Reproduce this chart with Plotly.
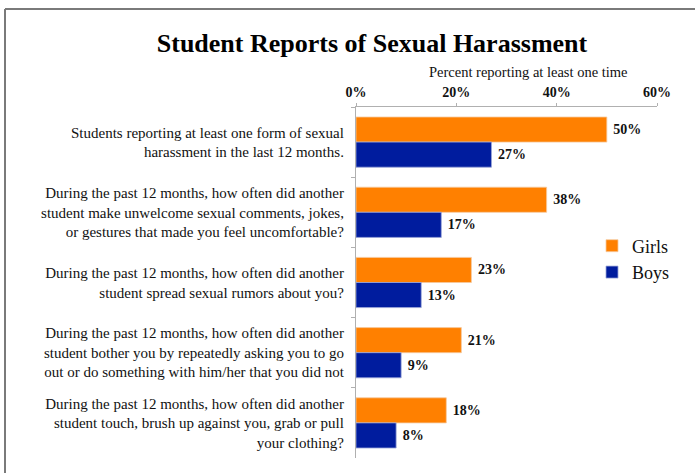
import plotly.graph_objects as go

categories = [
    "Students reporting at least one form of sexual<br>harassment in the last 12 months.",
    "During the past 12 months, how often did another<br>student make unwelcome sexual comments, jokes,<br>or gestures that made you feel uncomfortable?",
    "During the past 12 months, how often did another<br>student spread sexual rumors about you?",
    "During the past 12 months, how often did another<br>student bother you by repeatedly asking you to go<br>out or do something with him/her that you did not",
    "During the past 12 months, how often did another<br>student touch, brush up against you, grab or pull<br>your clothing?",
]
girls = [50, 38, 23, 21, 18]
boys = [27, 17, 13, 9, 8]
x_ticks = [0, 20, 40, 60]
x_tick_labels = ["0%", "20%", "40%", "60%"]

SERIF = "Liberation Serif, Times New Roman, serif"
W, H = 695, 473
L, R, T, B = 356, 38, 107, 15
PW, PH = W - L - R, H - T - B


def px_x(p):
    return (p - L) / PW


def px_y(p):
    return (H - B - p) / PH


fig = go.Figure()
fig.add_trace(go.Bar(
    name="Girls", y=categories, x=girls, orientation="h",
    marker=dict(color="#FF8000", line=dict(color="#f5c9a0", width=0.8)),
    text=girls, texttemplate="\u00a0<b>%{x}%</b>", textposition="outside",
    textfont=dict(family=SERIF, size=14, color="#111111"),
    cliponaxis=False,
))
fig.add_trace(go.Bar(
    name="Boys", y=categories, x=boys, orientation="h",
    marker=dict(color="#001C9E", line=dict(color="#9aa6d8", width=0.8)),
    text=boys, texttemplate="\u00a0<b>%{x}%</b>", textposition="outside",
    textfont=dict(family=SERIF, size=14, color="#111111"),
    cliponaxis=False,
))

fig.update_layout(
    width=W, height=H,
    margin=dict(l=L, r=R, t=T, b=B),
    paper_bgcolor="white", plot_bgcolor="white",
    barmode="group", bargap=0.285, bargroupgap=0,
    font=dict(family=SERIF, color="#111111"),
    title=dict(
        text="<b>Student Reports of Sexual Harassment</b>",
        font=dict(family=SERIF, size=26, color="#000000"),
        x=372 / W, xanchor="center", xref="container",
        y=1 - 43 / H, yanchor="middle", yref="container",
    ),
    xaxis=dict(
        side="top", range=[0, 60], tickvals=x_ticks,
        ticktext=["<b>%s</b>" % t for t in x_tick_labels],
        tickfont=dict(family=SERIF, size=14, color="#111111"),
        showgrid=False, zeroline=False,
        showline=True, linecolor="#b0b0b0", linewidth=1.2,
        ticks="outside", ticklen=3, tickcolor="#b0b0b0",
        ticklabelstandoff=0,
    ),
    yaxis=dict(
        type="category", autorange="reversed",
        tickfont=dict(family=SERIF, size=15, color="#111111"),
        showgrid=False, zeroline=False,
        showline=True, linecolor="#b0b0b0", linewidth=1.2,
        ticks="outside", ticklen=4, tickcolor="#b0b0b0",
        tickson="boundaries", ticklabelstandoff=8,
    ),
    legend=dict(
        x=px_x(592), xanchor="left", y=px_y(259), yanchor="middle",
        font=dict(family=SERIF, size=18, color="#111111"),
        bgcolor="rgba(0,0,0,0)", tracegroupgap=0,
    ),
    showlegend=True,
)

fig.add_annotation(
    text="Percent reporting at least one time",
    xref="paper", yref="paper", x=px_x(528), y=px_y(72),
    xanchor="center", yanchor="middle", showarrow=False,
    font=dict(family=SERIF, size=14.5, color="#111111"),
)

# outer frame (gray border partly visible at top and left)
fig.add_shape(type="line", xref="paper", yref="paper",
              x0=px_x(5), x1=px_x(5), y0=px_y(9), y1=px_y(480),
              line=dict(color="#7a7a7a", width=2))
fig.add_shape(type="line", xref="paper", yref="paper",
              x0=px_x(5), x1=px_x(700), y0=px_y(9), y1=px_y(9),
              line=dict(color="#7a7a7a", width=2))

fig.write_html(
    "out.html",
    config={"displayModeBar": False},
    post_script="document.body.style.margin='0';document.body.style.overflow='hidden';",
)
